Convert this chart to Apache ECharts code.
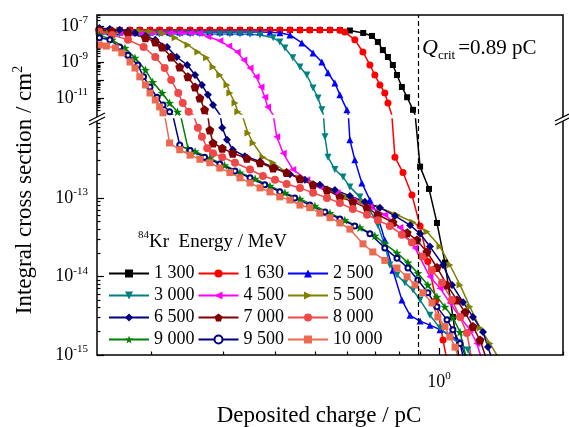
<!DOCTYPE html>
<html>
<head>
<meta charset="utf-8">
<script src="https://cdn.jsdelivr.net/npm/echarts@6/dist/echarts.min.js"></script>
<style>
html, body { margin: 0; padding: 0; background: #fff; }
#main { width: 569px; height: 427px; }
</style>
</head>
<body>
<div id="main"></div>
<script>
var FONT = 'Liberation Serif';

// legend names (84Kr energy, MeV)
var energies = ['1 300', '1 630', '2 500', '3 000', '4 500', '5 500', '6 500', '7 000', '8 000', '9 000', '9 500', '10 000'];
var colors = ['#000000', '#ff0000', '#0000ff', '#008080', '#ff00ff', '#808000', '#000080', '#800000', '#f04848', '#008000', '#000080', '#ec6a50'];

// critical charge, pC
var qCrit = 0.89;

// axis ticks
var xMajor = [1];
var xMinor = [0.2, 0.3, 0.4, 0.5, 0.6, 0.7, 0.8, 0.9, 2];
var yUpMajor = [1e-7, 1e-8, 1e-9, 1e-10, 1e-11];
var yUpLabels = [1e-7, 1e-9, 1e-11];
var yLoMajor = [1e-13, 1e-14, 1e-15];
var yLoLabels = [1e-13, 1e-14, 1e-15];

// [deposited charge pC, integral cross section cm2]
var s1300 = [[0.150,6.0e-8],[0.159,6.0e-8],[0.168,6.0e-8],[0.178,6.0e-8],[0.188,6.0e-8],[0.199,6.0e-8],[0.210,6.0e-8],[0.222,6.0e-8],[0.235,6.0e-8],[0.249,6.0e-8],[0.263,6.0e-8],[0.278,6.0e-8],[0.294,6.0e-8],[0.311,6.0e-8],[0.329,6.0e-8],[0.348,6.0e-8],[0.368,6.0e-8],[0.389,6.0e-8],[0.411,6.0e-8],[0.435,6.0e-8],[0.460,6.0e-8],[0.486,6.0e-8],[0.514,6.0e-8],[0.544,6.0e-8],[0.575,5.9e-8],[0.608,5.6e-8],[0.655,4.1e-8],[0.688,2.8e-8],[0.711,1.3e-8],[0.731,4.6e-9],[0.752,1.9e-9],[0.773,6.8e-10],[0.791,1.9e-10],[0.813,4.1e-11],[0.837,1.1e-11],[0.865,2.2e-12],[0.900,2.5e-13],[0.946,1.3e-13],[0.989,4.8e-14],[1.034,1.5e-14],[1.081,3.05e-15],[1.125,7.5e-16]];
var s1630 = [[0.150,6.0e-8],[0.159,6.0e-8],[0.168,6.0e-8],[0.178,6.0e-8],[0.188,6.0e-8],[0.199,6.0e-8],[0.210,6.0e-8],[0.222,6.0e-8],[0.235,6.0e-8],[0.249,6.0e-8],[0.263,6.0e-8],[0.278,6.0e-8],[0.294,6.0e-8],[0.311,6.0e-8],[0.329,6.0e-8],[0.348,6.0e-8],[0.368,6.0e-8],[0.389,6.0e-8],[0.411,6.0e-8],[0.435,6.0e-8],[0.460,6.0e-8],[0.486,6.0e-8],[0.514,6.0e-8],[0.544,6.0e-8],[0.575,5.8e-8],[0.591,4.6e-8],[0.625,1.7e-8],[0.654,3.6e-9],[0.680,6.8e-10],[0.699,1.9e-10],[0.719,5.3e-11],[0.739,1.9e-11],[0.752,5.3e-12],[0.782,3.3e-13],[0.818,2.1e-13],[0.860,1.09e-13],[0.900,4.4e-14],[0.940,1.55e-14],[0.984,5.0e-15],[1.023,1.55e-15],[1.051,7.5e-16]];
var s2500 = [[0.150,4.6e-8],[0.159,4.6e-8],[0.168,4.6e-8],[0.178,4.6e-8],[0.188,4.6e-8],[0.199,4.6e-8],[0.210,4.6e-8],[0.222,4.6e-8],[0.235,4.6e-8],[0.249,4.6e-8],[0.263,4.6e-8],[0.278,4.6e-8],[0.294,4.6e-8],[0.311,4.6e-8],[0.329,4.6e-8],[0.348,4.6e-8],[0.368,4.6e-8],[0.389,4.5e-8],[0.411,4.2e-8],[0.435,3.2e-8],[0.465,1.15e-8],[0.495,3.2e-9],[0.520,1.0e-9],[0.538,2.5e-10],[0.559,6.8e-11],[0.575,1.5e-11],[0.598,2.2e-12],[0.608,5.5e-13],[0.625,3.05e-13],[0.650,1.55e-13],[0.680,9.4e-14],[0.707,6.4e-14],[0.739,2.9e-14],[0.773,1.2e-14],[0.813,5.0e-15],[0.851,3.2e-15],[0.900,2.7e-15],[0.951,2.4e-15],[1.006,2.1e-15],[1.063,1.8e-15],[1.125,1.47e-15],[1.169,8.6e-16]];
var s3000 = [[0.150,3.6e-8],[0.159,3.6e-8],[0.168,3.6e-8],[0.178,3.6e-8],[0.188,3.6e-8],[0.199,3.6e-8],[0.210,3.6e-8],[0.222,3.6e-8],[0.235,3.6e-8],[0.249,3.6e-8],[0.263,3.6e-8],[0.278,3.6e-8],[0.294,3.6e-8],[0.311,3.6e-8],[0.329,3.6e-8],[0.348,3.5e-8],[0.368,3.2e-8],[0.396,2.2e-8],[0.411,1.3e-8],[0.423,6.0e-9],[0.442,1.7e-9],[0.460,5.3e-10],[0.478,1.9e-10],[0.495,3.6e-11],[0.509,1.0e-11],[0.520,2.2e-12],[0.529,6.0e-13],[0.538,3.3e-13],[0.559,2.3e-13],[0.585,1.85e-13],[0.608,1.38e-13],[0.643,1.03e-13],[0.680,7.0e-14],[0.711,4.5e-14],[0.739,2.5e-14],[0.760,1.4e-14],[0.791,1.04e-14],[0.827,8.3e-15],[0.865,6.7e-15],[0.900,5.0e-15],[0.951,3.2e-15],[1.006,2.2e-15],[1.063,1.7e-15],[1.125,1.4e-15],[1.176,1.16e-15],[1.209,8.2e-16]];
var s4500 = [[0.150,4.1e-8],[0.159,4.1e-8],[0.168,4.1e-8],[0.178,4.1e-8],[0.188,4.1e-8],[0.199,4.1e-8],[0.210,4.1e-8],[0.222,4.1e-8],[0.235,4.1e-8],[0.249,4.1e-8],[0.262,3.9e-8],[0.275,2.5e-8],[0.294,1.5e-8],[0.309,7.7e-9],[0.324,3.6e-9],[0.336,1.3e-9],[0.348,4.6e-10],[0.360,1.5e-10],[0.370,4.1e-11],[0.378,1.1e-11],[0.384,3.2e-12],[0.404,6.0e-13],[0.419,3.7e-13],[0.442,2.3e-13],[0.478,1.7e-13],[0.514,1.38e-13],[0.566,1.16e-13],[0.618,9.4e-14],[0.680,7.7e-14],[0.739,6.1e-14],[0.804,4.2e-14],[0.875,2.3e-14],[0.951,9.9e-15],[1.006,7.1e-15],[1.063,4.6e-15],[1.125,3.05e-15],[1.189,2.1e-15],[1.236,1.4e-15],[1.272,8.6e-16]];
var s5500 = [[0.150,5.3e-8],[0.159,5.3e-8],[0.168,5.3e-8],[0.178,5.3e-8],[0.188,5.3e-8],[0.199,5.0e-8],[0.213,4.1e-8],[0.229,2.2e-8],[0.246,8.8e-9],[0.260,3.6e-9],[0.273,1.7e-9],[0.283,5.3e-10],[0.294,1.9e-10],[0.306,5.3e-11],[0.311,1.9e-11],[0.320,5.3e-12],[0.325,1.7e-12],[0.344,6.7e-13],[0.354,5.0e-13],[0.374,3.3e-13],[0.396,2.8e-13],[0.427,2.1e-13],[0.460,1.8e-13],[0.495,1.55e-13],[0.544,1.26e-13],[0.598,1.03e-13],[0.654,8.9e-14],[0.719,7.5e-14],[0.791,6.1e-14],[0.865,4.9e-14],[0.935,3.7e-14],[1.006,2.4e-14],[1.063,1.4e-14],[1.125,7.8e-15],[1.189,4.1e-15],[1.258,2.2e-15],[1.330,1.4e-15],[1.406,8.6e-16]];
var s6500 = [[0.150,7.7e-8],[0.159,6.8e-8],[0.168,6.0e-8],[0.176,5.3e-8],[0.183,4.1e-8],[0.194,2.8e-8],[0.205,1.7e-8],[0.219,6.8e-9],[0.231,1.9e-9],[0.245,6.8e-10],[0.256,1.9e-10],[0.266,5.3e-11],[0.275,1.5e-11],[0.283,4.1e-12],[0.298,7.8e-13],[0.306,5.5e-13],[0.316,4.1e-13],[0.338,3.4e-13],[0.368,2.9e-13],[0.400,2.4e-13],[0.435,2.0e-13],[0.473,1.7e-13],[0.514,1.47e-13],[0.559,1.26e-13],[0.608,1.06e-13],[0.661,8.9e-14],[0.719,7.5e-14],[0.782,5.9e-14],[0.851,4.5e-14],[0.900,3.5e-14],[0.951,2.4e-14],[1.023,1.4e-14],[1.076,7.8e-15],[1.144,4.7e-15],[1.209,3.05e-15],[1.279,1.96e-15],[1.315,1.26e-15],[1.352,8.2e-16]];
var s7000 = [[0.150,6.0e-8],[0.161,5.3e-8],[0.176,4.1e-8],[0.194,2.2e-8],[0.205,1.3e-8],[0.213,6.8e-9],[0.224,1.9e-9],[0.235,5.3e-10],[0.246,1.5e-10],[0.256,4.1e-11],[0.263,1.0e-11],[0.270,2.2e-12],[0.278,7.3e-13],[0.283,5.0e-13],[0.298,4.3e-13],[0.316,3.7e-13],[0.342,3.2e-13],[0.368,2.8e-13],[0.396,2.4e-13],[0.427,2.1e-13],[0.460,1.75e-13],[0.495,1.47e-13],[0.535,1.26e-13],[0.575,1.03e-13],[0.618,8.9e-14],[0.669,7.5e-14],[0.711,6.1e-14],[0.773,4.9e-14],[0.837,3.6e-14],[0.884,2.9e-14],[0.935,2.05e-14],[0.989,1.3e-14],[1.046,7.8e-15],[1.106,5.0e-15],[1.157,3.5e-15],[1.209,2.3e-15],[1.258,1.55e-15],[1.307,8.6e-16]];
var s8000 = [[0.150,4.6e-8],[0.161,3.2e-8],[0.176,1.7e-8],[0.192,6.8e-9],[0.205,1.9e-9],[0.216,4.6e-10],[0.224,1.0e-10],[0.233,1.9e-11],[0.239,5.3e-12],[0.247,1.7e-12],[0.260,7.8e-13],[0.266,6.0e-13],[0.274,4.3e-13],[0.283,3.7e-13],[0.298,3.3e-13],[0.320,2.8e-13],[0.348,2.3e-13],[0.374,1.9e-13],[0.400,1.7e-13],[0.427,1.5e-13],[0.460,1.34e-13],[0.495,1.16e-13],[0.535,1.0e-13],[0.575,8.6e-14],[0.618,7.2e-14],[0.669,6.1e-14],[0.711,5.2e-14],[0.760,4.4e-14],[0.813,3.4e-14],[0.860,2.7e-14],[0.910,1.8e-14],[0.962,1.2e-14],[1.017,8.3e-15],[1.075,5.0e-15],[1.125,3.05e-15],[1.169,1.9e-15],[1.202,8.6e-16]];
var s9000 = [[0.150,3.2e-8],[0.161,1.7e-8],[0.173,6.0e-9],[0.183,1.7e-9],[0.194,3.6e-10],[0.202,7.7e-11],[0.213,1.9e-11],[0.222,5.3e-12],[0.232,1.7e-12],[0.246,4.3e-13],[0.256,3.9e-13],[0.278,3.2e-13],[0.302,2.6e-13],[0.329,2.1e-13],[0.358,1.75e-13],[0.389,1.42e-13],[0.423,1.16e-13],[0.460,9.7e-14],[0.500,7.9e-14],[0.544,6.4e-14],[0.591,5.2e-14],[0.643,4.2e-14],[0.699,3.3e-14],[0.739,2.6e-14],[0.791,2.0e-14],[0.841,1.5e-14],[0.889,1.1e-14],[0.940,7.8e-15],[0.989,5.5e-15],[1.034,4.1e-15],[1.081,3.0e-15],[1.125,1.96e-15],[1.169,8.6e-16]];
var s9500 = [[0.150,2.2e-8],[0.159,1.7e-8],[0.168,6.8e-9],[0.176,2.4e-9],[0.186,6.8e-10],[0.192,1.5e-10],[0.199,4.1e-11],[0.207,1.1e-11],[0.214,4.1e-12],[0.222,1.7e-12],[0.235,4.7e-13],[0.249,4.0e-13],[0.270,3.3e-13],[0.294,2.7e-13],[0.320,2.2e-13],[0.348,1.8e-13],[0.378,1.47e-13],[0.411,1.2e-13],[0.447,1.0e-13],[0.486,8.1e-14],[0.529,6.6e-14],[0.575,5.4e-14],[0.625,4.4e-14],[0.680,3.5e-14],[0.739,2.3e-14],[0.791,1.7e-14],[0.841,1.28e-14],[0.889,9.0e-15],[0.940,6.2e-15],[0.989,4.1e-15],[1.046,2.8e-15],[1.081,2.1e-15],[1.125,1.4e-15],[1.150,8.6e-16]];
var s10000 = [[0.150,8.8e-9],[0.156,7.7e-9],[0.164,6.0e-9],[0.170,3.2e-9],[0.178,1.0e-9],[0.183,4.6e-10],[0.188,1.5e-10],[0.194,5.3e-11],[0.199,1.9e-11],[0.205,7.7e-12],[0.210,3.2e-12],[0.214,1.5e-12],[0.222,5.0e-13],[0.235,4.1e-13],[0.249,3.5e-13],[0.263,3.1e-13],[0.278,2.8e-13],[0.294,2.4e-13],[0.311,2.1e-13],[0.329,1.8e-13],[0.348,1.55e-13],[0.368,1.34e-13],[0.389,1.19e-13],[0.411,1.03e-13],[0.435,9.4e-14],[0.460,8.1e-14],[0.486,7.5e-14],[0.514,6.4e-14],[0.544,5.6e-14],[0.575,4.8e-14],[0.608,4.0e-14],[0.654,2.6e-14],[0.691,2.05e-14],[0.739,1.6e-14],[0.791,1.28e-14],[0.837,9.9e-15],[0.875,7.8e-15],[0.914,6.2e-15],[0.962,4.6e-15],[0.994,3.05e-15],[1.034,2.3e-15],[1.063,1.7e-15],[1.094,1.26e-15],[1.118,8.6e-16]];

var curves = [s1300, s1630, s2500, s3000, s4500, s5500, s6500, s7000, s8000, s9000, s9500, s10000];

var STAR = 'path://M0,-10L2.35,-3.24L9.51,-3.09L3.8,1.24L5.88,8.09L0,4L-5.88,8.09L-3.8,1.24L-9.51,-3.09L-2.35,-3.24Z';
var PENTA = 'path://M0,-10L9.51,-3.09L5.88,8.09L-5.88,8.09L-9.51,-3.09Z';
var symbols = ['rect', 'circle', 'triangle', 'triangle', 'triangle', 'triangle', 'diamond', PENTA, 'circle', STAR, 'emptyCircle', 'rect'];
var rotates = [0, 0, 0, 180, 90, -90, 0, 0, 0, 0, 0, 0];
var sizes = [6, 7, 7, 7, 7, 7, 8, 9, 8, 9, 5, 7];

// axis ranges (broken y axis: upper and lower panel)
var xMin = 0.148, xMax = 2;
var yUpMin = 1.29e-12, yUpMax = 4.08e-7;
var yLoMin = 1e-15, yLoMax = 1.01e-12;

function minorTicks(lo, hi) {
	var out = [];
	for (var e = -16; e <= -6; e++) {
		for (var k = 2; k <= 9; k++) {
			var v = k * Math.pow(10, e);
			if (v > lo && v < hi) out.push(v);
		}
	}
	return out;
}

function powLabel(v) {
	var e = Math.round(Math.log(v) / Math.LN10);
	return '{b|10}{s|' + e + '}';
}

var labelRich = {
	b: { fontFamily: FONT, fontSize: 18, color: '#000', lineHeight: 22 },
	s: { fontFamily: FONT, fontSize: 11, color: '#000', verticalAlign: 'top', lineHeight: 12 }
};
var tickStyle = { color: '#000', width: 1.2 };

function valAxis(grid, min, max, major, labels, minor) {
	var ax = {
		gridIndex: grid, type: 'log', min: min, max: max,
		axisLine: { show: false }, splitLine: { show: false }, minorTick: { show: false }
	};
	if (minor) {
		ax.axisTick = { inside: true, length: 3.5, lineStyle: tickStyle, customValues: minor };
		ax.axisLabel = { show: false };
	} else {
		ax.axisTick = { inside: true, length: 7, lineStyle: tickStyle, customValues: major };
		ax.axisLabel = { customValues: labels, formatter: powLabel, rich: labelRich, fontFamily: FONT, margin: 9 };
	}
	return ax;
}

var xAxes = [
	{ gridIndex: 0, type: 'log', min: xMin, max: xMax, show: false },
	valAxis(1, xMin, xMax, xMajor, xMajor),
	valAxis(1, xMin, xMax, null, null, xMinor)
];
xAxes[1].position = 'bottom';
xAxes[2].position = 'bottom';
xAxes[1].axisLabel.margin = 16;

var yAxes = [
	valAxis(0, yUpMin, yUpMax, yUpMajor, yUpLabels),
	valAxis(0, yUpMin, yUpMax, null, null, minorTicks(yUpMin, yUpMax)),
	valAxis(1, yLoMin, yLoMax, yLoMajor, yLoLabels),
	valAxis(1, yLoMin, yLoMax, null, null, minorTicks(yLoMin, yLoMax))
];
for (var a = 0; a < yAxes.length; a++) yAxes[a].position = 'left';

var series = [];
for (var i = 0; i < energies.length; i++) {
	for (var g = 0; g < 2; g++) {
		var s = {
			name: energies[i], type: 'line',
			xAxisIndex: g ? 1 : 0, yAxisIndex: g ? 2 : 0,
			data: curves[i],
			symbol: symbols[i], symbolSize: sizes[i], symbolRotate: rotates[i],
			showAllSymbol: true, clip: true,
			lineStyle: { color: colors[i], width: 1.5 },
			itemStyle: { color: colors[i], borderColor: colors[i], borderWidth: symbols[i] === 'emptyCircle' ? 2 : 0 },
			emphasis: { disabled: true }
		};
		if (i === 0) {
			s.markLine = {
				silent: true, symbol: ['none', 'none'], label: { show: false },
				lineStyle: { color: '#000', type: [5, 3], width: 1.2 },
				data: [{ xAxis: qCrit }]
			};
		}
		series.push(s);
	}
}

var option = {
	animation: false,
	backgroundColor: '#fff',
	textStyle: { fontFamily: FONT },
	grid: [
		{ left: 97, top: 15, width: 466, height: 99, outerBoundsMode: 'none' },
		{ left: 97, top: 119, width: 466, height: 236, outerBoundsMode: 'none' }
	],
	xAxis: xAxes,
	yAxis: yAxes,
	legend: {
		data: energies, left: 108, top: 264, width: 290, padding: 0,
		itemWidth: 40, itemHeight: 10, itemGap: 3, selectedMode: false,
		textStyle: { fontFamily: FONT, fontSize: 18, color: '#000', lineHeight: 19 }
	},
	series: series,
	graphic: [
		{ type: 'rect', z: 100, shape: { x: 97, y: 15, width: 466, height: 340 }, style: { fill: 'none', stroke: '#000', lineWidth: 1.5 } },
		{ type: 'polygon', z: 101, shape: { points: [[89, 121], [105, 113], [105, 117], [89, 125]] }, style: { fill: '#fff' } },
		{ type: 'line', z: 102, shape: { x1: 89, y1: 121, x2: 105, y2: 113 }, style: { stroke: '#000', lineWidth: 1.3 } },
		{ type: 'line', z: 102, shape: { x1: 89, y1: 125, x2: 105, y2: 117 }, style: { stroke: '#000', lineWidth: 1.3 } },
		{ type: 'polygon', z: 101, shape: { points: [[555, 121], [569, 114], [569, 118], [555, 125]] }, style: { fill: '#fff' } },
		{ type: 'line', z: 102, shape: { x1: 555, y1: 121, x2: 569, y2: 114 }, style: { stroke: '#000', lineWidth: 1.3 } },
		{ type: 'line', z: 102, shape: { x1: 555, y1: 125, x2: 569, y2: 118 }, style: { stroke: '#000', lineWidth: 1.3 } },
		{
			type: 'text', x: 25, y: 190, rotation: Math.PI / 2, z: 100,
			style: {
				text: '{n|Integral cross section / cm}{s|2}', align: 'center', verticalAlign: 'middle', fill: '#000',
				rich: {
					n: { fontFamily: FONT, fontSize: 23, lineHeight: 28, fill: '#000' },
					s: { fontFamily: FONT, fontSize: 14, verticalAlign: 'top', lineHeight: 14, fill: '#000' }
				}
			}
		},
		{
			type: 'text', x: 319, y: 416, z: 100,
			style: { text: 'Deposited charge / pC', fontFamily: FONT, fontSize: 23, align: 'center', verticalAlign: 'middle', fill: '#000' }
		},
		{
			type: 'text', x: 422, y: 48, z: 100,
			style: {
				text: '{i|Q}{sub|crit}{n|=' + qCrit + ' pC}', align: 'left', verticalAlign: 'middle', fill: '#000',
				rich: {
					i: { fontFamily: FONT, fontSize: 22, fontStyle: 'italic', lineHeight: 28, fill: '#000' },
					sub: { fontFamily: FONT, fontSize: 13, verticalAlign: 'bottom', lineHeight: 13, fill: '#000', padding: [0, 3, 0, 0] },
					n: { fontFamily: FONT, fontSize: 21, lineHeight: 28, fill: '#000' }
				}
			}
		},
		{
			type: 'text', x: 138, y: 242, z: 100,
			style: {
				text: '{s|84}{n|Kr  Energy / MeV}', align: 'left', verticalAlign: 'middle', fill: '#000',
				rich: {
					s: { fontFamily: FONT, fontSize: 11, verticalAlign: 'top', lineHeight: 11, fill: '#000' },
					n: { fontFamily: FONT, fontSize: 19, lineHeight: 24, fill: '#000' }
				}
			}
		}
	]
};

var myChart = echarts.init(document.getElementById('main'));
myChart.setOption(option);
</script>
</body>
</html>
